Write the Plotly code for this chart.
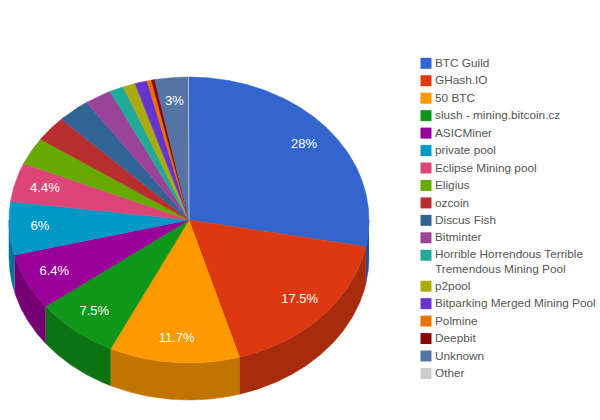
import numpy as np
import plotly.graph_objects as go

pools = ["BTC Guild", "GHash.IO", "50 BTC", "slush - mining.bitcoin.cz", "ASICMiner",
         "private pool", "Eclipse Mining pool", "Eligius", "ozcoin", "Discus Fish",
         "Bitminter", "Horrible Horrendous Terrible<br>Tremendous Mining Pool", "p2pool",
         "Bitparking Merged Mining Pool", "Polmine", "Deepbit", "Unknown", "Other"]
shares = [28, 17.5, 11.7, 7.5, 6.4, 6, 4.4, 3.1, 2.9, 2.9, 2.4, 1.3, 1.1, 1.1, 0.4, 0.3, 3, 0.05]
labels = ["28%", "17.5%", "11.7%", "7.5%", "6.4%", "6%", "4.4%", "", "", "", "", "", "", "", "", "", "3%", ""]
colors = ["#3366cc", "#dc3912", "#ff9900", "#109618", "#990099", "#0099c6", "#dd4477", "#66aa00",
          "#b82e2e", "#316395", "#994499", "#22aa99", "#aaaa11", "#6633cc", "#e67300", "#8b0707",
          "#5574a6", "#cccccc"]

cx, cy, rx, ry, depth = 189, 220, 180, 143, 37


def darker(c, k=0.76):
    return "#" + "".join("%02x" % int(int(c[i:i + 2], 16) * k) for i in (1, 3, 5))


def rim(a0, a1):
    t = np.radians(np.linspace(a0, a1, max(int(abs(a1 - a0)) * 2, 2)))
    return cx + rx * np.sin(t), cy - ry * np.cos(t)


fig = go.Figure()
edges = np.cumsum([0] + shares) / sum(shares) * 360

# side wall first, only the front half of the pie can be seen
for i, c in enumerate(colors):
    lo, hi = max(edges[i], 90), min(edges[i + 1], 270)
    if lo < hi:
        x, y = rim(lo, hi)
        fig.add_trace(go.Scatter(x=np.r_[x, x[::-1]], y=np.r_[y, y[::-1] + depth], mode="lines",
                                 fill="toself", fillcolor=darker(c),
                                 line=dict(color=darker(c), width=0.5), hoverinfo="skip"))

# top of the pie
for i, c in enumerate(colors):
    x, y = rim(edges[i], edges[i + 1])
    fig.add_trace(go.Scatter(x=np.r_[cx, x, cx], y=np.r_[cy, y, cy], mode="lines",
                             fill="toself", fillcolor=c, line=dict(color=c, width=0.5),
                             hoverinfo="skip"))

mid = np.radians((edges[:-1] + edges[1:]) / 2)
fig.add_trace(go.Scatter(x=cx + 0.83 * rx * np.sin(mid), y=cy - 0.83 * ry * np.cos(mid),
                         mode="text", text=labels, textposition="middle center",
                         textfont=dict(color="white", size=13), hoverinfo="skip"))

# legend drawn by hand, the built-in one can't do small swatches next to the text
row_y, swatch_y = [], 63.3
for p in pools:
    extra = 13.5 * p.count("<br>")
    row_y.append(swatch_y)
    swatch_y += 17.45 + extra
text_y = [y + 0.7 + 6.75 * p.count("<br>") for y, p in zip(row_y, pools)]
fig.add_trace(go.Scatter(x=[426] * len(pools), y=row_y, mode="markers",
                         marker=dict(symbol="square", size=11, color=colors), hoverinfo="skip"))
fig.add_trace(go.Scatter(x=[435] * len(pools), y=text_y, mode="text", text=pools,
                         textposition="middle right", textfont=dict(color="#555555", size=11.8),
                         hoverinfo="skip"))

fig.update_layout(width=600, height=420, margin=dict(l=0, r=0, t=0, b=0), showlegend=False,
                  paper_bgcolor="white", plot_bgcolor="white",
                  font=dict(family="Liberation Sans, Arial, sans-serif"),
                  xaxis=dict(range=[0, 600], visible=False, fixedrange=True),
                  yaxis=dict(range=[420, 0], visible=False, fixedrange=True))
# the page keeps its default body margin otherwise and the figure gets pushed off the window
fig.write_html("out.html", post_script="document.body.style.margin = '0';",
               config={"displayModeBar": False})
